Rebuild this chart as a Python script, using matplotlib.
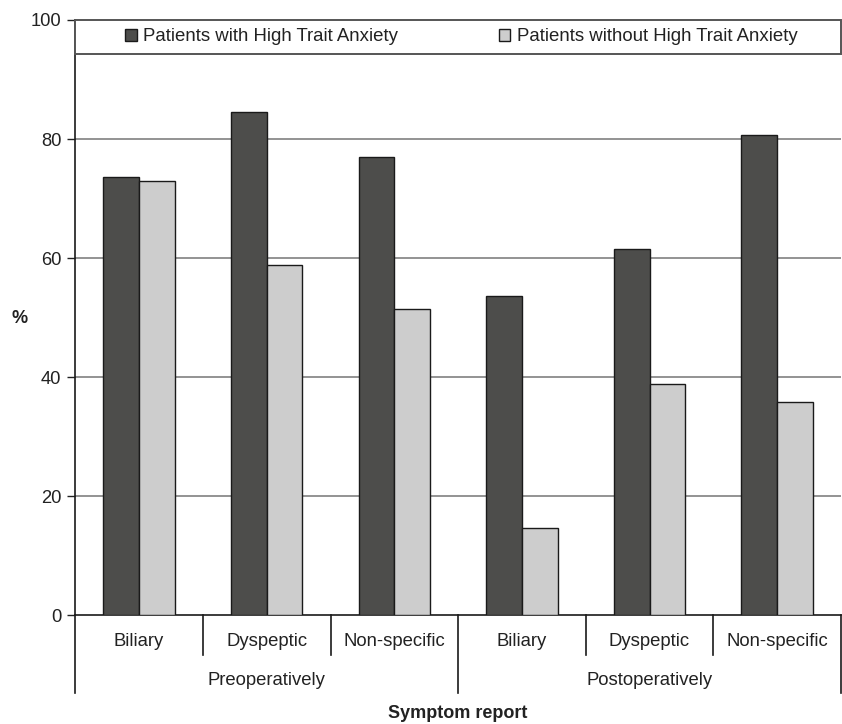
import matplotlib
matplotlib.use("Agg")
import matplotlib.pyplot as plt
from matplotlib.patches import Rectangle, Patch
import numpy as np

plt.rcParams['font.family'] = ['Liberation Sans', 'DejaVu Sans']

categories = ["Biliary", "Dyspeptic", "Non-specific", "Biliary", "Dyspeptic", "Non-specific"]
groups = ["Preoperatively", "Postoperatively"]
high_anxiety = [73.6, 84.5, 77.0, 53.7, 61.6, 80.7]
no_high_anxiety = [72.9, 58.9, 51.5, 14.6, 38.8, 35.8]
series_names = ["Patients with High Trait Anxiety", "Patients without High Trait Anxiety"]
yticks = [0, 20, 40, 60, 80, 100]

dark = "#4d4d4b"
light = "#cdcdcd"

fig = plt.figure(figsize=(8.42, 7.24), dpi=100)
ax = fig.add_axes([0.0894, 0.1501, 0.9094, 0.8223])

x = np.arange(len(categories))
w = 0.28
ax.bar(x - w / 2, high_anxiety, width=w, color=dark, edgecolor="#1a1a1a", linewidth=1.0, zorder=3)
ax.bar(x + w / 2, no_high_anxiety, width=w, color=light, edgecolor="#1a1a1a", linewidth=1.0, zorder=3)

ax.set_xlim(-0.5, len(categories) - 0.5)
ax.set_ylim(0, 100)
ax.set_yticks(yticks)
ax.set_yticklabels([str(t) for t in yticks], fontsize=13.2, color="#222222")
ax.tick_params(axis='y', direction='out', length=6, width=1, pad=4, color="#222222")
ax.set_xticks([])

for g in [20, 40, 60, 80]:
    ax.axhline(g, color="#808080", linewidth=1.2, zorder=1)

for s in ["top", "right"]:
    ax.spines[s].set_visible(False)
ax.spines["left"].set_color("#1a1a1a")
ax.spines["bottom"].set_color("#1a1a1a")
ax.spines["left"].set_linewidth(1.2)
ax.spines["bottom"].set_linewidth(1.2)

# legend box at top
ax.add_patch(Rectangle((-0.5, 94.3), len(categories), 5.7, facecolor="white",
                       edgecolor="#555555", linewidth=1.4, zorder=4, clip_on=False))
handles = [Patch(facecolor=dark, edgecolor="#1a1a1a", linewidth=1.0),
           Patch(facecolor=light, edgecolor="#1a1a1a", linewidth=1.0)]
leg = ax.legend(handles, series_names, loc="center", bbox_to_anchor=(0.504, 0.9715),
                ncol=2, frameon=False, fontsize=13.4, handlelength=0.62, handleheight=0.62,
                handletextpad=0.35, columnspacing=5.4, borderaxespad=0)
leg.set_zorder(5)
for t in leg.get_texts():
    t.set_color("#222222")

# hierarchical x axis
trans = ax.get_xaxis_transform()
small = 40 / 595.3
big = 78 / 595.3
for xd in [0.5, 1.5, 3.5, 4.5]:
    ax.plot([xd, xd], [0, -small], transform=trans, color="#1a1a1a", lw=1.2, clip_on=False)
for xd in [-0.5, 2.5, 5.5]:
    ax.plot([xd, xd], [0, -big], transform=trans, color="#1a1a1a", lw=1.2, clip_on=False)

for xi, c in zip(x, categories):
    ax.text(xi, -26.5 / 595.3, c, transform=trans, ha="center", va="center",
            fontsize=13.3, color="#222222")
for gi, g in enumerate(groups):
    ax.text(gi * 3 + 1, -65 / 595.3, g, transform=trans, ha="center", va="center",
            fontsize=13.3, color="#222222")

fig.text(458 / 842, (724 - 713) / 724, "Symptom report", ha="center", va="center",
         fontsize=13, fontweight="bold", color="#222222")
fig.text(20 / 842, (724 - 318) / 724, "%", ha="center", va="center",
         fontsize=13, fontweight="bold", color="#222222")

fig.savefig("out.png", dpi=100)
